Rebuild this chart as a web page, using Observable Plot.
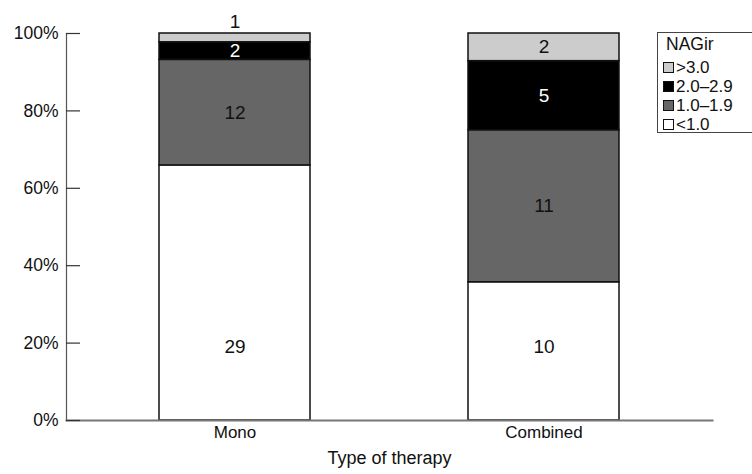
<!DOCTYPE html>
<html>
<head>
<meta charset="utf-8">
<script src="https://cdn.jsdelivr.net/npm/d3@7"></script>
<script src="https://cdn.jsdelivr.net/npm/@observablehq/plot@0.6"></script>
<style>
  html, body { margin: 0; padding: 0; background: #fff; overflow: hidden; }
  #wrap { position: relative; width: 752px; height: 474px; font-family: "Liberation Sans", Arial, sans-serif; }
  #legend { position: absolute; left: 657px; top: 32px; width: 110px; height: 101px; border: 1px solid #444; box-sizing: border-box; color: #111; }
  #legend .title { position: absolute; left: 8px; top: 0px; font-size: 17.5px; line-height: 22px; }
  #legend .row { position: absolute; left: 5px; font-size: 17px; line-height: 19px; display: flex; align-items: center; }
  #legend .sw { width: 9px; height: 9px; border: 1px solid #111; margin-right: 2px; }
</style>
</head>
<body>
<div id="wrap"></div>
<script>
const therapies = ["Mono", "Combined"];
const levels = ["<1.0", "1.0–1.9", "2.0–2.9", ">3.0"];
const colors = ["#ffffff", "#666666", "#000000", "#cccccc"];
const counts = {
  "Mono":     [29, 12, 2, 1],
  "Combined": [10, 11, 5, 2]
};
const legendOrder = [">3.0", "2.0–2.9", "1.0–1.9", "<1.0"];
const yTicks = [0, 0.2, 0.4, 0.6, 0.8, 1.0];

// build stacked, normalized segments
const segs = [];
for (const t of therapies) {
  const vals = counts[t];
  const total = d3.sum(vals);
  let acc = 0;
  vals.forEach((v, i) => {
    const y1 = acc / total;
    acc += v;
    const y2 = acc / total;
    segs.push({therapy: t, level: levels[i], count: v, y1, y2, idx: i});
  });
}
// label placement
const labels = segs.map(s => {
  let y = (s.y1 + s.y2) / 2, outside = false;
  if (s.idx === 0) y = 0.19;
  if (s.y2 - s.y1 < 0.04) { y = s.y2; outside = true; }
  const fill = s.level === "2.0–2.9" ? "#fff" : "#111";
  return {...s, ly: y, outside, tfill: fill};
});

const W = 752, H = 474, ML = 66, MR = 40;
const plot = Plot.plot({
  width: W, height: H,
  marginLeft: ML, marginRight: MR, marginTop: 33, marginBottom: 54,
  style: {fontFamily: "Liberation Sans, Arial, sans-serif", color: "#111", background: "#fff"},
  x: {domain: therapies, paddingInner: 0.51, paddingOuter: 0.3, axis: null},
  y: {domain: [0, 1], axis: null},
  color: {domain: levels, range: colors},
  marks: [
    Plot.barY(segs, {x: "therapy", y1: "y1", y2: "y2", fill: "level", stroke: "#111", strokeWidth: 1.5}),
    Plot.frame({anchor: "left", stroke: "#555", strokeWidth: 1.2}),
    Plot.frame({anchor: "bottom", stroke: "#777", strokeWidth: 2}),
    Plot.ruleY(yTicks, {stroke: "#333", strokeWidth: 1.2, insetRight: (W - ML - MR) - 14}),
    Plot.axisY({ticks: yTicks, tickSize: 0, tickPadding: 8, fontSize: 17.5, tickFormat: d => Math.round(d * 100) + "%", label: null}),
    Plot.text(labels.filter(d => !d.outside), {x: "therapy", y: "ly", text: "count", fill: d => d.tfill, fontSize: 19}),
    Plot.text(labels.filter(d => d.outside), {x: "therapy", y: "ly", dy: -12, text: "count", fill: "#111", fontSize: 19}),
    Plot.text(therapies, {x: d => d, frameAnchor: "bottom", dy: 17, text: d => d, fontSize: 17}),
    Plot.text(["Type of therapy"], {frameAnchor: "bottom", dy: 43, text: d => d, fontSize: 18})
  ]
});
const wrap = document.getElementById("wrap");
wrap.appendChild(plot);

// legend
const lg = document.createElement("div");
lg.id = "legend";
let html = `<div class="title">NAGir</div>`;
legendOrder.forEach((l, i) => {
  const c = colors[levels.indexOf(l)];
  html += `<div class="row" style="top:${25 + i * 19}px"><span class="sw" style="background:${c}"></span>${l}</div>`;
});
lg.innerHTML = html;
wrap.appendChild(lg);
</script>
</body>
</html>
